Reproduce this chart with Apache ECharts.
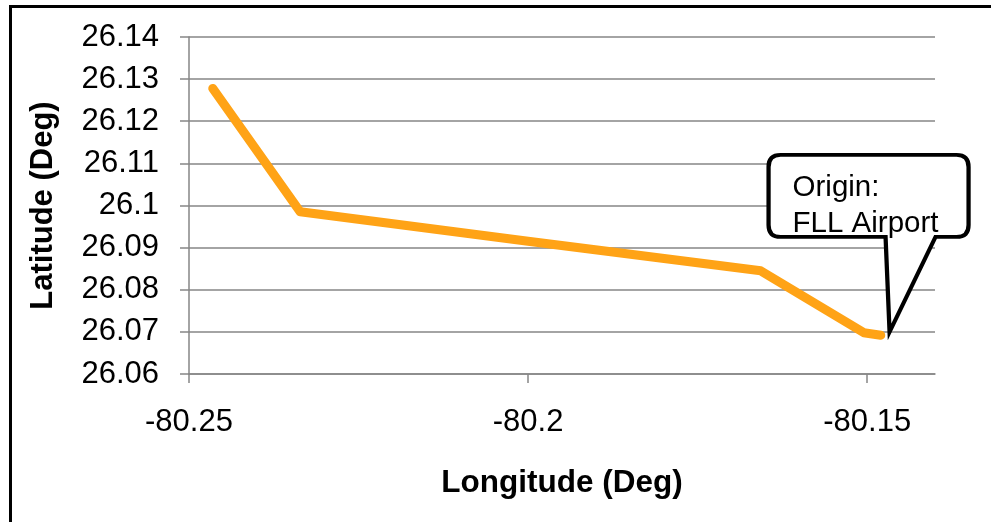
<!DOCTYPE html>
<html>
<head>
<meta charset="utf-8">
<script src="https://cdn.jsdelivr.net/npm/echarts@6/dist/echarts.min.js"></script>
<style>
html,body{margin:0;padding:0;background:#fff;}
#c{width:991px;height:522px;}
</style>
</head>
<body>
<div id="c"></div>
<script>
// Flight track (longitude, latitude)
const lonValues = [-80.2465, -80.2336, -80.2000, -80.1657, -80.1505, -80.1480];
const latValues = [26.1278, 26.0985, 26.0915, 26.0845, 26.0698, 26.0692];
const xTickLabels = [-80.25, -80.2, -80.15];
const yTickLabels = [26.06, 26.07, 26.08, 26.09, 26.1, 26.11, 26.12, 26.13, 26.14];
const calloutText = 'Origin:\nFLL Airport';
const calloutPoint = [-80.1467, 26.0700];

const FONT = 'Liberation Sans, Arial, sans-serif';
const chart = echarts.init(document.getElementById('c'), null, {renderer: 'canvas'});

const seriesData = lonValues.map((x, i) => [x, latValues[i]]);

const calloutPath = 'path://M12,0 L188,0 Q200,0 200,12 L200,70 Q200,82 188,82 L167,82 L121,177 L117,82 L12,82 Q0,82 0,70 L0,12 Q0,0 12,0 Z';

chart.setOption({
  animation: false,
  backgroundColor: '#fff',
  graphic: [{
    type: 'rect',
    shape: {x: 10.5, y: 6.5, width: 1100, height: 700},
    style: {fill: 'none', stroke: '#000', lineWidth: 3},
    silent: true, z: 100
  }],
  grid: {left: 189, top: 37, right: 56, bottom: 148, containLabel: false},
  xAxis: {
    type: 'value',
    min: -80.25, max: -80.14,
    name: 'Longitude (Deg)',
    nameLocation: 'middle',
    nameGap: 93,
    nameTextStyle: {fontFamily: FONT, fontSize: 31.5, fontWeight: 'bold', color: '#000'},
    axisLine: {show: true, onZero: false, lineStyle: {color: '#868686', width: 1.5}},
    axisTick: {show: true, length: 9, customValues: xTickLabels, lineStyle: {color: '#868686', width: 1.5}},
    axisLabel: {customValues: xTickLabels, margin: 33, fontFamily: FONT, fontSize: 31, color: '#000',
      formatter: v => String(v)},
    splitLine: {show: false}
  },
  yAxis: {
    type: 'value',
    min: 26.06, max: 26.14, interval: 0.01,
    name: 'Latitude (Deg)',
    nameLocation: 'middle',
    nameGap: 130,
    nameTextStyle: {fontFamily: FONT, fontSize: 31, fontWeight: 'bold', color: '#000'},
    axisLine: {show: true, onZero: false, lineStyle: {color: '#868686', width: 1.5}},
    axisTick: {show: true, length: 9, lineStyle: {color: '#868686', width: 1.5}},
    axisLabel: {margin: 30, fontFamily: FONT, fontSize: 31, color: '#000',
      formatter: v => String(parseFloat(v.toFixed(2)))},
    splitLine: {show: true, lineStyle: {color: '#868686', width: 1.5}}
  },
  series: [{
    type: 'line',
    data: seriesData,
    showSymbol: false,
    symbol: 'none',
    lineStyle: {color: '#FFA316', width: 9, cap: 'round', join: 'round'},
    markPoint: {
      silent: true,
      data: [{
        coord: calloutPoint,
        symbol: calloutPath,
        symbolSize: [200, 177],
        symbolOffset: [-21, -88.5],
        symbolKeepAspect: false,
        itemStyle: {color: '#fff', borderColor: '#000', borderWidth: 4},
        label: {
          show: true,
          formatter: calloutText,
          position: 'inside',
          offset: [-76, -38],
          align: 'left',
          verticalAlign: 'middle',
          fontFamily: FONT,
          fontSize: 29.5,
          lineHeight: 36,
          color: '#000'
        }
      }]
    }
  }]
});
</script>
</body>
</html>
